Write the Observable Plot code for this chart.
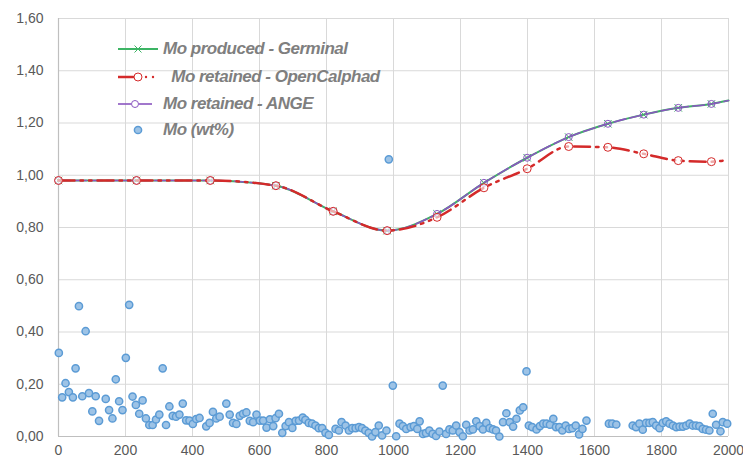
<!DOCTYPE html>
<html>
<head>
<meta charset="utf-8">
<script src="https://cdn.jsdelivr.net/npm/d3@7"></script>
<script src="https://cdn.jsdelivr.net/npm/@observablehq/plot@0.6"></script>
<style>
  body { margin: 0; background: #fff; }
  #wrap { position: relative; width: 743px; height: 465px; }
  #legend { position: absolute; left: 0; top: 0; }
  .row { position: absolute; display: flex; align-items: center; height: 22px;
         font-family: "Liberation Sans", Arial, sans-serif; letter-spacing: -0.5px;
         font-size: 17px; font-weight: bold; font-style: italic; color: #7f7f7f; white-space: pre; }
  .row svg { position: absolute; left: 0; top: 0; }
  .row span { position: absolute; top: 1px; }
</style>
</head>
<body>
<div id="wrap"><div id="chart"></div><div id="legend"></div></div>
<script>
// ---- data ----
const xTicks = [0, 200, 400, 600, 800, 1000, 1200, 1400, 1600, 1800, 2000];
const yTicks = [0, 0.2, 0.4, 0.6, 0.8, 1.0, 1.2, 1.4, 1.6];

const lineX        = [0, 233, 453, 649, 820, 981, 1130, 1270, 1399, 1523, 1640, 1747, 1850, 1949, 2000];
const germinal     = [0.98, 0.98, 0.98, 0.96, 0.862, 0.788, 0.852, 0.971, 1.067, 1.146, 1.197, 1.232, 1.258, 1.273, 1.286];
const ocRetained   = [0.98, 0.98, 0.98, 0.96, 0.862, 0.788, 0.839, 0.952, 1.025, 1.110, 1.107, 1.082, 1.056, 1.052, 1.059];
const angeRetained = [0.98, 0.98, 0.98, 0.96, 0.862, 0.788, 0.852, 0.971, 1.067, 1.146, 1.197, 1.232, 1.258, 1.273, 1.286];
const markerCount  = 14; // the last line point carries no marker

const sampleX = [1, 11, 21, 31, 43, 51, 61, 71, 81, 91, 101, 111, 121, 141, 151, 161, 171, 181, 191, 201, 211, 221, 231, 241, 251, 261, 271, 281, 291, 301, 311, 321, 331, 341, 351, 361, 371, 381, 391, 401, 411, 421, 441, 451, 461, 471, 481, 501, 511, 521, 531, 541, 551, 561, 571, 581, 591, 601, 611, 621, 631,
  641, 648, 658, 668, 678, 688, 698, 708, 718, 729, 737, 747, 757, 767, 777, 787, 797, 807, 827, 837, 845, 857, 867, 877, 887, 897, 906, 916, 926, 936, 946, 956, 966, 979,
  986, 998, 1008, 1018, 1028, 1038, 1051, 1061, 1071, 1078, 1088, 1097, 1107, 1117, 1127, 1137, 1147, 1157, 1167, 1177, 1187, 1197, 1207, 1217, 1227, 1237, 1247, 1257, 1267, 1277, 1287, 1297, 1306, 1316,
  1327, 1337, 1347, 1357, 1367, 1377, 1387, 1397, 1404, 1414, 1427, 1437, 1447, 1457, 1467, 1477, 1485, 1495, 1504, 1514, 1524, 1534, 1544, 1554, 1564, 1576, 1643, 1653, 1665,
  1714, 1724, 1734, 1744, 1754, 1764, 1774, 1784, 1794, 1804, 1814, 1824, 1834, 1844, 1854, 1864, 1874, 1884, 1893, 1903, 1913, 1923, 1933, 1943, 1953, 1963, 1976, 1983, 1996];
const sampleMo = [0.320, 0.150, 0.204, 0.170, 0.150, 0.261, 0.499, 0.154, 0.403, 0.166, 0.096, 0.154, 0.060, 0.144, 0.101, 0.069, 0.219, 0.135, 0.101, 0.301, 0.504, 0.153, 0.121, 0.087, 0.138, 0.069, 0.044, 0.044, 0.065, 0.084, 0.261, 0.044, 0.115, 0.079, 0.076, 0.084, 0.126, 0.062, 0.061, 0.048, 0.067, 0.071, 0.039, 0.052, 0.094, 0.069, 0.076, 0.126, 0.084, 0.052, 0.048, 0.079, 0.087, 0.092, 0.060, 0.055, 0.084, 0.061, 0.061, 0.034, 0.066,
  0.040, 0.070, 0.087, 0.014, 0.040, 0.055, 0.033, 0.060, 0.061, 0.072, 0.064, 0.052, 0.049, 0.042, 0.032, 0.032, 0.014, 0.006, 0.029, 0.023, 0.055, 0.042, 0.023, 0.032, 0.032, 0.036, 0.032, 0.023, 0.014, 0.000, 0.017, 0.042, 0.004, 0.023,
  1.061, 0.195, 0.001, 0.049, 0.040, 0.029, 0.036, 0.040, 0.029, 0.058, 0.010, 0.013, 0.023, 0.010, 0.002, 0.019, 0.195, 0.010, 0.027, 0.023, 0.042, 0.017, 0.001, 0.045, 0.023, 0.027, 0.058, 0.040, 0.027, 0.052, 0.032, 0.027, 0.023, 0.000,
  0.055, 0.089, 0.055, 0.038, 0.068, 0.100, 0.112, 0.249, 0.042, 0.036, 0.027, 0.040, 0.049, 0.049, 0.045, 0.068, 0.036, 0.036, 0.023, 0.042, 0.029, 0.032, 0.042, 0.008, 0.029, 0.061, 0.049, 0.049, 0.046,
  0.042, 0.036, 0.049, 0.026, 0.052, 0.052, 0.055, 0.042, 0.032, 0.052, 0.058, 0.049, 0.042, 0.036, 0.038, 0.038, 0.042, 0.049, 0.042, 0.042, 0.040, 0.029, 0.026, 0.023, 0.087, 0.045, 0.020, 0.055, 0.049];

const seriesNames = ["Mo produced - Germinal", " Mo retained - OpenCalphad", "Mo retained - ANGE", "Mo (wt%)"];

// ---- styles ----
const GREEN = "#3cb464", RED = "#d42a2a", PURPLE = "#8a55c0", BLUE_FILL = "#9dc3e6", BLUE_STROKE = "#5b9bd5";
const OC_DASH = "16,6,2.5,6,2.5,6";
const CURVE = "monotone-x";

const toRows = ys => lineX.map((x, i) => ({x, y: ys[i], i}));
const gRows = toRows(germinal), oRows = toRows(ocRetained), aRows = toRows(angeRetained);
const withMarker = d => d.i < markerCount;
const samples = sampleX.map((x, i) => ({x, y: sampleMo[i]}));
const fmt = v => d3.format(".2f")(v).replace(".", ",");

const chart = Plot.plot({
  width: 743, height: 465,
  marginLeft: 58, marginRight: 15, marginTop: 18, marginBottom: 29,
  x: {domain: [0, 2000]},
  y: {domain: [0, 1.6]},
  style: {fontFamily: "Liberation Sans, Arial, sans-serif", fontSize: "14px", color: "#595959", background: "#fff"},
  marks: [
    Plot.ruleX(xTicks, {stroke: "#d9d9d9", strokeWidth: 1}),
    Plot.ruleY(yTicks, {stroke: "#d9d9d9", strokeWidth: 1}),
    Plot.ruleX([0], {stroke: "#bfbfbf", strokeWidth: 1.2}),
    Plot.ruleY([0], {stroke: "#bfbfbf", strokeWidth: 1.2}),
    Plot.axisY({ticks: yTicks, tickSize: 0, tickPadding: 15, tickFormat: fmt, label: null}),
    Plot.axisX({ticks: xTicks, tickSize: 0, tickPadding: 9, tickFormat: d => String(d), label: null}),
    // Germinal
    Plot.line(gRows, {x: "x", y: "y", stroke: GREEN, strokeWidth: 2, curve: CURVE}),
    Plot.dot(gRows.filter(withMarker), {x: "x", y: "y", symbol: "times", r: 3.5, stroke: GREEN, strokeWidth: 1}),
    // ANGE
    Plot.line(aRows, {x: "x", y: "y", stroke: PURPLE, strokeWidth: 1.6, curve: CURVE, strokeDasharray: "12,4"}),
    Plot.dot(aRows.filter(withMarker), {x: "x", y: "y", r: 3.5, stroke: PURPLE, fill: "none", strokeWidth: 1}),
    // OpenCalphad
    Plot.line(oRows, {x: "x", y: "y", stroke: RED, strokeWidth: 2.5, curve: CURVE, strokeDasharray: OC_DASH}),
    Plot.dot(oRows.filter(withMarker), {x: "x", y: "y", r: 4, stroke: RED, fill: "white", fillOpacity: 0.6, strokeWidth: 1}),
    // Samples
    Plot.dot(samples, {x: "x", y: "y", r: 3.6, fill: BLUE_FILL, stroke: BLUE_STROKE, strokeWidth: 1.5})
  ]
});
document.getElementById("chart").appendChild(chart);

// ---- legend (overlay inside plot area, top-left) ----
const legend = document.getElementById("legend");
const rowsCfg = [
  {cy: 49, swatch: `<line x1="6" y1="11" x2="46" y2="11" stroke="${GREEN}" stroke-width="2"/><path d="M22.5,7.5 L29.5,14.5 M29.5,7.5 L22.5,14.5" stroke="${GREEN}" stroke-width="1"/>`, left: 163},
  {cy: 77, swatch: `<line x1="6" y1="11" x2="22" y2="11" stroke="${RED}" stroke-width="2.5"/><circle cx="26" cy="11" r="4" fill="white" stroke="${RED}" stroke-width="1"/><circle cx="34" cy="11" r="1.2" fill="${RED}"/><circle cx="41" cy="11" r="1.2" fill="${RED}"/>`, left: 167},
  {cy: 104, swatch: `<line x1="6" y1="11" x2="19" y2="11" stroke="${PURPLE}" stroke-width="1.6"/><circle cx="23" cy="11" r="3.5" fill="none" stroke="${PURPLE}" stroke-width="1"/><line x1="27" y1="11" x2="40" y2="11" stroke="${PURPLE}" stroke-width="1.6"/>`, left: 163},
  {cy: 130, swatch: `<circle cx="26" cy="11" r="3.6" fill="${BLUE_FILL}" stroke="${BLUE_STROKE}" stroke-width="1.5"/>`, left: 163}
];
rowsCfg.forEach((r, i) => {
  const row = document.createElement("div");
  row.className = "row";
  row.style.left = "112px";
  row.style.top = (r.cy - 11) + "px";
  row.style.width = "300px";
  row.innerHTML = `<svg width="50" height="22">${r.swatch}</svg><span style="left:${r.left - 112}px">${seriesNames[i]}</span>`;
  legend.appendChild(row);
});
</script>
</body>
</html>
